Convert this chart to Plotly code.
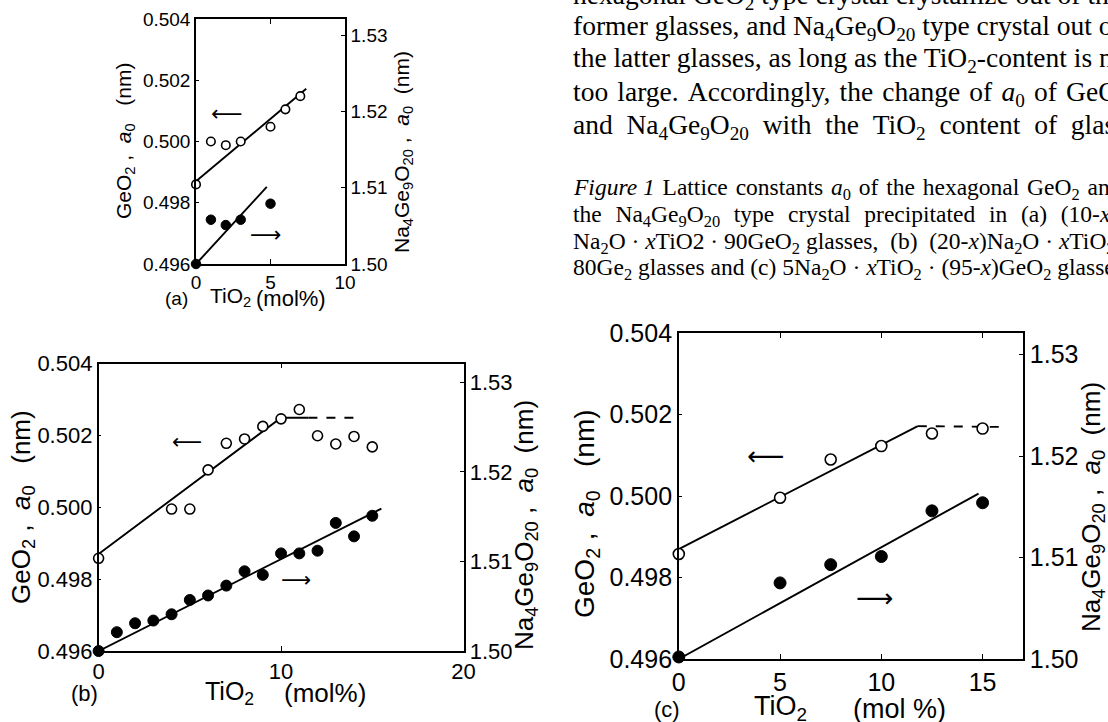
import plotly.graph_objects as go

W, H = 1108, 722

# ---------------- data ----------------
# (a)
a_open_x = [0, 1, 2, 3, 5, 6, 7]
a_open_y = [0.4986, 0.5000, 0.49988, 0.5000, 0.50048, 0.50105, 0.50148]
a_fill_x = [0, 1, 2, 3, 5]
a_fill_y = [1.5000, 1.5058, 1.5051, 1.5058, 1.5079]
a_line_open_x = [0, 7.4]
a_line_open_y = [0.4987, 0.50172]
a_line_fill_x = [0, 4.75]
a_line_fill_y = [1.5000, 1.5101]

# (b)
b_open_x = [0, 4, 5, 6, 7, 8, 9, 10, 11, 12, 13, 14, 15]
b_open_y = [0.49858, 0.49995, 0.49995, 0.50104, 0.50178, 0.50190, 0.50225,
            0.50246, 0.50272, 0.50199, 0.50176, 0.50197, 0.50168]
b_fill_x = [0, 1, 2, 3, 4, 5, 6, 7, 8, 9, 10, 11, 12, 13, 14, 15]
b_fill_y = [1.5000, 1.5021, 1.5031, 1.5034, 1.5041, 1.5057, 1.5062, 1.5073,
            1.5089, 1.5085, 1.5109, 1.5109, 1.5112, 1.5143, 1.5128, 1.5151]
b_line_open_x = [0, 10, 11.5]
b_line_open_y = [0.4987, 0.50249, 0.50249]
b_dash_open_x = [11.5, 14.4]
b_dash_open_y = [0.50249, 0.50249]
b_line_fill_x = [0, 15.5]
b_line_fill_y = [1.5000, 1.5159]

# (c)
c_open_x = [0, 5, 7.5, 10, 12.5, 15]
c_open_y = [0.49858, 0.49996, 0.50090, 0.50123, 0.50154, 0.50166]
c_fill_x = [0, 5, 7.5, 10, 12.5, 15]
c_fill_y = [1.5002, 1.5075, 1.5093, 1.5101, 1.5146, 1.5154]
c_line_open_x = [0, 11.8]
c_line_open_y = [0.4987, 0.50172]
c_dash_open_x = [11.8, 15.9]
c_dash_open_y = [0.50172, 0.50170]
c_line_fill_x = [0, 14.8]
c_line_fill_y = [1.5000, 1.5163]

left_ticks = [0.496, 0.498, 0.500, 0.502, 0.504]
left_ticktext = ["0.496", "0.498", "0.500", "0.502", "0.504"]
right_ticks = [1.50, 1.51, 1.52, 1.53]
right_ticktext = ["1.50", "1.51", "1.52", "1.53"]

a_xticks = [0, 5, 10]
b_xticks = [0, 10, 20]
c_xticks = [0, 5, 10, 15]

# text (lists of words; gap strings emulate the justified spacing of the page)
NB = "\u00a0"
HAIR = "\u200a"
body_words = [
    ["hexagonal", "GeO<sub>2</sub>", "type", "crystal", "crystallize", "out", "of", "the"],
    ["former", "glasses,", "and", "Na<sub>4</sub>Ge<sub>9</sub>O<sub>20</sub>", "type", "crystal", "out", "of"],
    ["the", "latter", "glasses,", "as", "long", "as", "the", "TiO<sub>2</sub>-content", "is", "not"],
    ["too", "large.", "Accordingly,", "the", "change", "of", "<i>a</i><sub>0</sub>", "of", "GeO<sub>2</sub>"],
    ["and", "Na<sub>4</sub>Ge<sub>9</sub>O<sub>20</sub>", "with", "the", "TiO<sub>2</sub>", "content", "of", "glasses"],
]
body_gaps = [" ", " ", " ", " " + HAIR, NB + NB]
body_y = [-3, 28, 60, 93, 126]

caption_words = [
    ["<i>Figure 1</i>", "Lattice", "constants", "<i>a</i><sub>0</sub>", "of", "the", "hexagonal",
     "GeO<sub>2</sub>", "and"],
    ["the", "Na<sub>4</sub>Ge<sub>9</sub>O<sub>20</sub>", "type", "crystal", "precipitated", "in",
     "(a)", "(10-<i>x</i>)"],
    ["Na<sub>2</sub>O", "·", "<i>x</i>TiO2", "·", "90GeO<sub>2</sub>", "glasses,", NB + "(b)" + NB,
     "(20-<i>x</i>)Na<sub>2</sub>O", "·", "<i>x</i>TiO<sub>2</sub>", "·"],
    ["80Ge<sub>2</sub>", "glasses", "and", "(c)", "5Na<sub>2</sub>O", "·", "<i>x</i>TiO<sub>2</sub>",
     "·", "(95-<i>x</i>)GeO<sub>2</sub>", "glasses."],
]
caption_gaps = [" " + HAIR, NB + NB + HAIR, " ", " "]
caption_y = [189, 216, 243, 269]

# ---------------- helpers ----------------
def px_x(p):
    return p / W

def px_y(p):
    return 1 - p / H

SANS = "Liberation Sans"
SERIF = "Liberation Serif"
TEXT_LEFT = 571

fig = go.Figure()

panels = [
    dict(xa="x", yl="y", yr="y2", xd=(196, 345), yd=(19, 264), xr=[0, 10],
         xt=a_xticks, fs=19, ms=8.5,
         open=(a_open_x, a_open_y), fill=(a_fill_x, a_fill_y),
         lo=(a_line_open_x, a_line_open_y), lf=(a_line_fill_x, a_line_fill_y), do=None),
    dict(xa="x2", yl="y3", yr="y4", xd=(98.6, 463.5), yd=(363.5, 651), xr=[0, 20],
         xt=b_xticks, fs=22, ms=10,
         open=(b_open_x, b_open_y), fill=(b_fill_x, b_fill_y),
         lo=(b_line_open_x, b_line_open_y), lf=(b_line_fill_x, b_line_fill_y),
         do=(b_dash_open_x, b_dash_open_y)),
    dict(xa="x3", yl="y5", yr="y6", xd=(678.8, 1023.1), yd=(333.3, 659), xr=[0, 17],
         xt=c_xticks, fs=25, ms=11,
         open=(c_open_x, c_open_y), fill=(c_fill_x, c_fill_y),
         lo=(c_line_open_x, c_line_open_y), lf=(c_line_fill_x, c_line_fill_y),
         do=(c_dash_open_x, c_dash_open_y)),
]

layout = {}
for p in panels:
    xa, yl, yr = p["xa"], p["yl"], p["yr"]
    fig.add_trace(go.Scatter(x=p["lo"][0], y=p["lo"][1], mode="lines", xaxis=xa, yaxis=yl,
                             line=dict(color="black", width=1.9), showlegend=False, hoverinfo="skip"))
    if p["do"] is not None:
        fig.add_trace(go.Scatter(x=p["do"][0], y=p["do"][1], mode="lines", xaxis=xa, yaxis=yl,
                                 line=dict(color="black", width=1.9, dash="dash"),
                                 showlegend=False, hoverinfo="skip"))
    fig.add_trace(go.Scatter(x=p["lf"][0], y=p["lf"][1], mode="lines", xaxis=xa, yaxis=yr,
                             line=dict(color="black", width=1.9), showlegend=False, hoverinfo="skip"))
    fig.add_trace(go.Scatter(x=p["open"][0], y=p["open"][1], mode="markers", xaxis=xa, yaxis=yl,
                             marker=dict(symbol="circle", size=p["ms"], color="white",
                                         line=dict(color="black", width=1.6)),
                             showlegend=False, cliponaxis=False))
    fig.add_trace(go.Scatter(x=p["fill"][0], y=p["fill"][1], mode="markers", xaxis=xa, yaxis=yr,
                             marker=dict(symbol="circle", size=p["ms"] + 1, color="black",
                                         line=dict(color="black", width=1)),
                             showlegend=False, cliponaxis=False))

    xname = "xaxis" + xa[1:]
    ylname = "yaxis" + yl[1:]
    yrname = "yaxis" + yr[1:]
    tf = dict(family=SANS, size=p["fs"], color="black")
    layout[xname] = dict(domain=[px_x(p["xd"][0]), px_x(p["xd"][1])], range=p["xr"],
                         anchor=yl, tickvals=p["xt"], ticktext=[str(v) for v in p["xt"]],
                         ticks="inside", ticklen=5, tickwidth=1, tickcolor="black",
                         showline=True, linecolor="black", linewidth=1.5, mirror="ticks",
                         showgrid=False, zeroline=False, tickfont=tf, ticklabelstandoff=0,
                         automargin=False)
    layout[ylname] = dict(domain=[px_y(p["yd"][1]), px_y(p["yd"][0])], range=[0.496, 0.504],
                          anchor=xa, tickvals=left_ticks, ticktext=left_ticktext,
                          ticks="inside", ticklen=3, tickwidth=1, tickcolor="black",
                          showline=True, linecolor="black", linewidth=1.5,
                          showgrid=False, zeroline=False, tickfont=tf, ticklabelstandoff=0,
                          automargin=False)
    layout[yrname] = dict(range=[1.50, 1.5321], overlaying=yl, side="right", anchor=xa,
                          tickvals=right_ticks, ticktext=right_ticktext,
                          ticks="inside", ticklen=4, tickwidth=1, tickcolor="black",
                          showline=True, linecolor="black", linewidth=1.5,
                          showgrid=False, zeroline=False, tickfont=tf, ticklabelstandoff=0,
                          automargin=False)

annotations = []

def ann(text, x, y, size, family=SANS, angle=0, xanchor="center", yanchor="middle"):
    annotations.append(dict(text=text, x=x, y=y, xref="paper", yref="paper", showarrow=False,
                            font=dict(family=family, size=size, color="black"),
                            textangle=angle, xanchor=xanchor, yanchor=yanchor))

LT = "GeO<sub>2</sub> ,  <i>a</i><sub>0</sub>" + NB + NB + " (nm)"
RT = "Na<sub>4</sub>Ge<sub>9</sub>O<sub>20</sub> ,  <i>a</i><sub>0</sub>" + NB + " (nm)"

# (a) labels
ann(LT, px_x(125), px_y(141), 21, angle=-90)
ann(RT, px_x(403), px_y(152), 21, angle=-90)
ann("(a)", px_x(176), px_y(298), 19)
ann("TiO<sub>2</sub>", px_x(230), px_y(297), 21)
ann("(mol%)", px_x(291), px_y(299), 22)
# (b) labels
ann(LT, px_x(23), px_y(507), 26, angle=-90)
ann(RT, px_x(525), px_y(525), 26, angle=-90)
ann("(b)", px_x(84), px_y(693), 22)
ann("TiO<sub>2</sub>", px_x(229), px_y(693), 25)
ann("(mol%)", px_x(325), px_y(693), 26)
# (c) labels
ann(LT, px_x(586), px_y(514), 28, angle=-90)
ann(RT, px_x(1093), px_y(507), 26, angle=-90)
ann("(c)", px_x(667), px_y(709), 22)
ann("TiO<sub>2</sub>", px_x(780), px_y(708), 27)
ann("(mol %)", px_x(899), px_y(709), 27)

# arrows (text glyphs placed in data coordinates)
arrows = [
    ("x", "y", 2.05, 0.50093, "⟵", 22),
    ("x", "y", 4.7, 0.49695, "⟶", 22),
    ("x2", "y3", 4.87, 0.50182, "⟵", 21),
    ("x2", "y3", 10.8, 0.49798, "⟶", 21),
    ("x3", "y5", 4.28, 0.50098, "⟵", 26),
    ("x3", "y5", 9.65, 0.49751, "⟶", 26),
]
for xr_, yr_, x, y, t, s in arrows:
    annotations.append(dict(text=t, x=x, y=y, xref=xr_, yref=yr_, showarrow=False,
                            font=dict(family="DejaVu Sans", size=s, color="black")))

# text block
for words, gap, yy in zip(body_words, body_gaps, body_y):
    ann(gap.join(words), px_x(TEXT_LEFT), px_y(yy), 27.5, family=SERIF, xanchor="left")
for words, gap, yy in zip(caption_words, caption_gaps, caption_y):
    ann(gap.join(words), px_x(TEXT_LEFT), px_y(yy), 23.5, family=SERIF, xanchor="left")

fig.update_layout(width=W, height=H, margin=dict(l=0, r=0, t=0, b=0, autoexpand=False),
                  paper_bgcolor="white", plot_bgcolor="white",
                  showlegend=False, annotations=annotations, **layout)

fig.write_html("out.html", config={"displayModeBar": False},
               post_script="document.body.style.margin='0';document.body.style.overflow='hidden';")
